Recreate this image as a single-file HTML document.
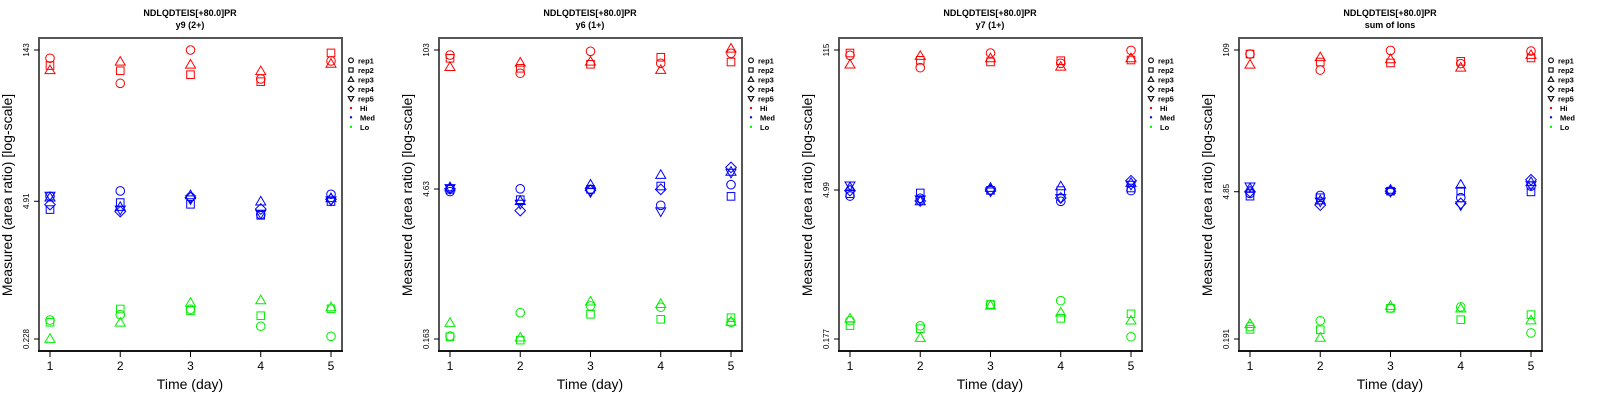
<!DOCTYPE html>
<html><head><meta charset="utf-8">
<style>
html,body{margin:0;padding:0;background:#fff;}
svg{display:block;font-family:"Liberation Sans",sans-serif;}
</style></head>
<body>
<svg id="chart" width="1600" height="400" viewBox="0 0 1600 400" xmlns="http://www.w3.org/2000/svg"></svg>
<script>
// ---- data ----
const days = [1, 2, 3, 4, 5];
const reps = ["rep1", "rep2", "rep3", "rep4", "rep5"];
const levels = ["Hi", "Med", "Lo"];
const panelTitles = ["y9 (2+)", "y6 (1+)", "y7 (1+)", "sum of Ions"];
const peptide = "NDLQDTEIS[+80.0]PR";
const tickLow = [0.228, 0.163, 0.177, 0.191];
const tickMid = [4.91, 4.63, 4.99, 4.85];
const tickHigh = [143, 103, 115, 109];

// each: rows = reps, cols = days
const p1Hi = [[119,68,143,75,112],[101,90,82.5,70.6,134],[91,110,103,89,105]];
const p1Med = [[5.49,6.18,5.4,3.65,5.74],[4.08,4.77,4.59,3.59,4.88],[5.33,4.32,5.61,4.88,5.25],[4.56,3.90,5.33,4.13,5.13],[5.57,4.08,5.13,3.73,5.02]];
const p1Lo = [[0.348,0.392,0.443,0.303,0.242],[0.331,0.445,0.429,0.383,0.447],[0.228,0.328,0.509,0.540,0.462]];

const p2Hi = [[92,61.3,100,76.5,95.7],[85.6,68.5,74.9,87.6,78.8],[70.4,77.6,79.3,65.9,106]];
const p2Med = [[4.37,4.65,4.6,3.22,5.1],[4.6,3.65,4.6,4.95,3.93],[4.81,3.54,5.1,6.33,6.8],[4.65,2.86,4.5,4.6,7.5],[4.73,3.34,4.33,2.82,6.67]];
const p2Lo = [[0.174,0.293,0.341,0.331,0.236],[0.171,0.159,0.283,0.253,0.262],[0.233,0.168,0.375,0.355,0.239]];

const p3Hi = [[102,77.4,107.5,85.3,114],[107.5,91.3,88,90.5,91.9],[82.8,100.5,95.5,79.1,95.5]];
const p3Med = [[4.36,4.14,5.0,3.87,4.92],[4.59,4.67,4.95,4.92,5.22],[5.29,3.87,5.22,5.41,5.84],[4.92,3.9,5.0,4.17,6.14],[5.54,4.04,4.84,4.17,5.62]];
const p3Lo = [[0.267,0.238,0.382,0.418,0.186],[0.239,0.223,0.384,0.281,0.311],[0.279,0.181,0.373,0.32,0.267]];

const p4Hi = [[99.8,70.2,108,80.8,106.6],[99.8,83.7,82,85,91.5],[78.9,92.9,88.8,73.9,97.6]];
const p4Med = [[4.67,4.47,4.91,4.25,5.48],[4.4,4.25,4.91,4.91,4.83],[5.21,4.0,5.06,5.65,5.98],[4.85,3.61,4.91,3.75,6.3],[5.45,3.92,4.85,3.61,5.6]];
const p4Lo = [[0.25,0.285,0.377,0.386,0.218],[0.236,0.234,0.375,0.292,0.326],[0.265,0.196,0.394,0.372,0.287]];

const panelData = [[p1Hi,p1Med,p1Lo],[p2Hi,p2Med,p2Lo],[p3Hi,p3Med,p3Lo],[p4Hi,p4Med,p4Lo]];
const levelColors = ["#ff0000", "#0000ff", "#00ee00"];

// ---- drawing ----
const NS = "http://www.w3.org/2000/svg";
const svg = document.getElementById("chart");
function mk(tag, attrs, parent) {
  const e = document.createElementNS(NS, tag);
  for (const k in attrs) e.setAttribute(k, attrs[k]);
  (parent || svg).appendChild(e);
  return e;
}
function marker(g, shape, cx, cy, s, color, sw) {
  let e;
  if (shape === 0) e = mk("circle", {cx: cx, cy: cy, r: 4.3 * s}, g);
  else if (shape === 1) e = mk("rect", {x: cx - 3.8 * s, y: cy - 3.8 * s, width: 7.6 * s, height: 7.6 * s}, g);
  else if (shape === 2) e = mk("polygon", {points: `${cx},${cy - 5.2 * s} ${cx + 5 * s},${cy + 3.4 * s} ${cx - 5 * s},${cy + 3.4 * s}`}, g);
  else if (shape === 3) e = mk("polygon", {points: `${cx},${cy - 5.3 * s} ${cx + 5.3 * s},${cy} ${cx},${cy + 5.3 * s} ${cx - 5.3 * s},${cy}`}, g);
  else e = mk("polygon", {points: `${cx},${cy + 5.2 * s} ${cx + 5 * s},${cy - 3.4 * s} ${cx - 5 * s},${cy - 3.4 * s}`}, g);
  e.setAttribute("fill", "none");
  e.setAttribute("stroke", color);
  e.setAttribute("stroke-width", sw);
  return e;
}

const boxL = 39, boxR = 342, boxT = 38, boxB = 351;
const yLowPx = 339, yHighPx = 50;
const xDay1 = 50, xDay5 = 331;

panelData.forEach((pd, p) => {
  const ox = p * 400;
  const g = mk("g", {transform: `translate(${ox},0)`});
  
  
  const lo = tickLow[p], hi = tickHigh[p];
  const yS = v => yLowPx - (Math.log(v) - Math.log(lo)) / (Math.log(hi) - Math.log(lo)) * (yLowPx - yHighPx);
  const xS = d => xDay1 + (d - days[0]) / (days[days.length - 1] - days[0]) * (xDay5 - xDay1);

  const t1 = mk("text", {x: 190, y: 16, "text-anchor": "middle", "font-size": 9, "font-weight": "bold"}, g);
  t1.textContent = peptide;
  
  
  const t2 = mk("text", {x: 190, y: 28, "text-anchor": "middle", "font-size": 9, "font-weight": "bold"}, g);
  t2.textContent = panelTitles[p];
  
  

  // points
  pd.forEach((series, li) => {
    series.forEach((vals, ri) => {
      vals.forEach((v, di) => {
        const m = marker(g, ri, xS(days[di]), yS(v), 1, levelColors[li], 1);
        
        
      });
    });
  });

  // box
  const box = mk("rect", {x: boxL, y: boxT, width: boxR - boxL, height: boxB - boxT, fill: "none", stroke: "#555", "stroke-width": 2}, g);
  
  
  mk("line", {x1: boxL - 1, x2: boxR + 1, y1: boxB, y2: boxB, stroke: "#000", "stroke-width": 1.5}, g);

  // y ticks
  [lo, tickMid[p], hi].forEach(v => {
    const y = yS(v);
    mk("line", {x1: boxL - 5, x2: boxL, y1: y, y2: y, stroke: "#000", "stroke-width": 1}, g);
    const tl = mk("text", {x: 0, y: 0, transform: `translate(29,${y}) rotate(-90)`, "text-anchor": "middle", "font-size": 8}, g);
    tl.textContent = String(v);
    
    
  });
  // x ticks
  days.forEach(d => {
    const x = xS(d);
    mk("line", {x1: x, x2: x, y1: boxB, y2: boxB + 6, stroke: "#000", "stroke-width": 1}, g);
    const tl = mk("text", {x: x, y: 370, "text-anchor": "middle", "font-size": 12}, g);
    tl.textContent = String(d);
    
    
  });
  const xt = mk("text", {x: 190, y: 389, "text-anchor": "middle", "font-size": 14}, g);
  xt.textContent = "Time (day)";
  
  
  const yt = mk("text", {x: 0, y: 0, transform: "translate(12,195) rotate(-90)", "text-anchor": "middle", "font-size": 14}, g);
  yt.textContent = "Measured (area ratio) [log-scale]";
  
  

  // legend
  const lg = mk("g", {}, g);
  
  
  const rowY = [60.3, 70, 79.5, 89, 98.5, 108, 117.3, 126.8];
  reps.forEach((r, i) => {
    const m = marker(lg, i, 351, rowY[i], 0.55, "#000", 1.1);
    
    
    const tx = mk("text", {x: 358, y: rowY[i] + 3, "font-size": 7.5, "font-weight": "bold"}, lg);
    tx.textContent = r;
    
    
  });
  levels.forEach((l, i) => {
    const y = rowY[5 + i];
    const c = mk("circle", {cx: 351, cy: y, r: 1.2, fill: levelColors[i]}, lg);
    
    
    const tx = mk("text", {x: 360, y: y + 3, "font-size": 7.5, "font-weight": "bold"}, lg);
    tx.textContent = l;
    
    
  });
});
</script>
</body></html>
